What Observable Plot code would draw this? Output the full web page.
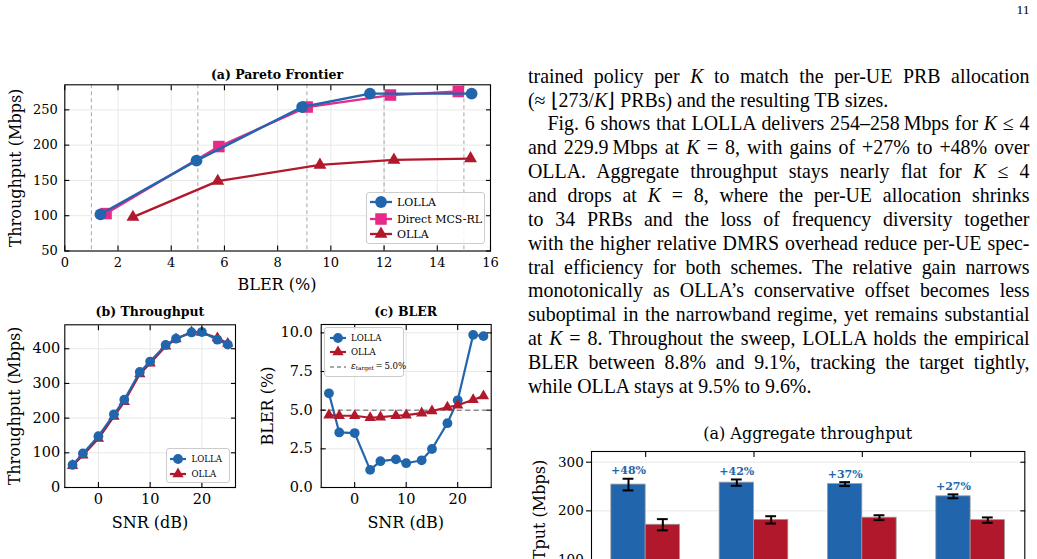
<!DOCTYPE html>
<html>
<head>
<meta charset="utf-8">
<script src="https://cdn.jsdelivr.net/npm/d3@7"></script>
<script src="https://cdn.jsdelivr.net/npm/@observablehq/plot@0.6"></script>
<style>
html, body { margin: 0; padding: 0; background: #fff; }
#page { position: relative; width: 1037px; height: 559px; overflow: hidden; background: #fff; }
.chart { position: absolute; }
.chart svg { max-width: none; display: block; }
.lbl { position: absolute; font-family: "DejaVu Serif", serif; color: #000; white-space: nowrap; transform: translate(-50%, -50%); line-height: 1; }
.ttl { font-weight: bold; font-size: 12.5px; }
.axl { font-size: 16px; }
.rot { transform: translate(-50%, -50%) rotate(-90deg); }
.legend { position: absolute; box-sizing: border-box; border: 1px solid #cccccc; border-radius: 3px; background: rgba(255,255,255,0.85); font-family: "DejaVu Serif", serif; color: #000; }
.legend span { position: absolute; white-space: nowrap; transform: translateY(-50%); line-height: 1; }
.legend svg { position: absolute; overflow: visible; }
.line { position: absolute; left: 528px; width: 501.5px; font-family: "Liberation Serif", "Times New Roman", serif; font-size: 19.9px; line-height: 23.85px; white-space: nowrap; color: #000; }
.pageno { position: absolute; left: 1000px; width: 29.5px; text-align: right; top: 2px; font-family: "Liberation Serif", "Times New Roman", serif; font-size: 13.5px; line-height: 16px; }
</style>
</head>
<body>
<div id="page"></div>
<script>
// ---------- data ----------
// (a) Pareto frontier: empirical BLER (%) vs throughput (Mbps) per BLER target
const blerTargets = [1, 5, 9.1, 12, 15];
const paretoLollaBler = [1.34, 4.95, 8.92, 11.47, 15.29];
const paretoLollaTput = [102, 178, 254, 273, 273];
const paretoDirectBler = [1.55, 5.79, 9.11, 12.24, 14.79];
const paretoDirectTput = [103, 198, 254, 271, 276];
const paretoOllaBler = [2.56, 5.75, 9.59, 12.37, 15.25];
const paretoOllaTput = [98, 149, 172, 179, 181];

// (b)/(c) SNR sweep
const snrDb = [-5, -3, 0, 3, 5, 8, 10, 13, 15, 18, 20, 23, 25];
const tputLolla = [65, 98, 148, 211, 253, 333, 363, 411, 429, 447, 448, 426, 412];
const tputOlla = [63, 93, 141, 205, 247, 327, 358, 407, 428, 448, 447, 431, 415];
const blerLolla = [6.09, 3.56, 3.52, 1.14, 1.70, 1.82, 1.57, 1.76, 2.49, 4.16, 5.64, 9.87, 9.79];
const blerOlla = [4.68, 4.64, 4.64, 4.51, 4.55, 4.64, 4.68, 4.81, 4.94, 5.19, 5.32, 5.67, 5.92];
const blerTarget = 5.0;

// Aggregate throughput per number of users K
const usersK = [1, 2, 4, 8];
const aggLolla = [254, 258, 255, 229.9];
const aggLollaErr = [12, 6.5, 4, 4];
const aggOlla = [171.5, 181.5, 186, 181];
const aggOllaErr = [11.5, 7.5, 5, 5.5];

// ---------- style ----------
const BLUE = "#2166ac", PINK = "#e7298a", RED = "#b2182b";
const GRID = "#e8e8e8";
const FONT = "DejaVu Serif";
const page = document.getElementById("page");

const rows = (xs, ys) => xs.map((x, i) => ({x, y: ys[i]}));

function place(node, left, top) {
  const wrap = document.createElement("div");
  wrap.className = "chart";
  wrap.style.left = left + "px";
  wrap.style.top = top + "px";
  wrap.append(node);
  page.append(wrap);
}

function label(text, x, y, cls) {
  const d = document.createElement("div");
  d.className = "lbl " + cls;
  d.innerHTML = text;
  d.style.left = x + "px";
  d.style.top = y + "px";
  page.append(d);
}

// light grid behind the data
function boxGrid({xTicks, yTicks}) {
  return [
    Plot.gridX({ticks: xTicks, stroke: GRID, strokeOpacity: 1, strokeWidth: 1}),
    Plot.gridY({ticks: yTicks, stroke: GRID, strokeOpacity: 1, strokeWidth: 1})
  ];
}
// frame with inward ticks on all four sides, labels on bottom and left
function boxFrame({xTicks, yTicks, yFormat, fontSize, xPad, yPad}) {
  return [
    Plot.frame({stroke: "#000", strokeWidth: 1.1}),
    Plot.axisX({ticks: xTicks, anchor: "bottom", tickSize: -5, tickPadding: xPad, label: null, fontSize, strokeWidth: 1.1}),
    Plot.axisX({ticks: xTicks, anchor: "top", tickSize: -5, tickFormat: () => "", label: null, strokeWidth: 1.1}),
    Plot.axisY({ticks: yTicks, anchor: "left", tickSize: -5, tickPadding: yPad, tickFormat: yFormat, label: null, fontSize, strokeWidth: 1.1}),
    Plot.axisY({ticks: yTicks, anchor: "right", tickSize: -5, tickFormat: () => "", label: null, strokeWidth: 1.1})
  ];
}

function series(data, color, symbol, r, sw) {
  return [
    Plot.line(data, {x: "x", y: "y", stroke: color, strokeWidth: sw}),
    Plot.dot(data, {x: "x", y: "y", fill: color, symbol, r})
  ];
}

function legend(items, box) {
  const div = document.createElement("div");
  div.className = "legend";
  Object.assign(div.style, {
    left: box.left + "px", top: box.top + "px",
    width: box.width + "px", height: box.height + "px",
    fontSize: box.fontSize + "px"
  });
  items.forEach((it, i) => {
    const cy = box.rows[i];
    const svg = d3.create("svg")
      .attr("width", box.lineLen).attr("height", 16)
      .style("left", box.lineX + "px").style("top", (cy - 8) + "px");
    svg.append("line")
      .attr("x1", 0).attr("x2", box.lineLen).attr("y1", 8).attr("y2", 8)
      .attr("stroke", it.color).attr("stroke-width", it.width)
      .attr("stroke-dasharray", it.dash || null);
    if (it.symbol) {
      svg.append("path")
        .attr("d", d3.symbol(it.symbol, Math.PI * it.r * it.r)())
        .attr("transform", `translate(${box.lineLen / 2},8)`)
        .attr("fill", it.color);
    }
    div.append(svg.node());
    const sp = document.createElement("span");
    sp.innerHTML = it.label;
    sp.style.left = box.textX + "px";
    sp.style.top = cy + "px";
    div.append(sp);
  });
  page.append(div);
}

// ---------- (a) Pareto frontier ----------
{
  const ax = {xTicks: d3.range(0, 17, 2), yTicks: [50, 100, 150, 200, 250], fontSize: 13, xPad: 12, yPad: 12};
  const chart = Plot.plot({
    width: 500, height: 230,
    marginLeft: 64.3, marginRight: 10, marginTop: 24.3, marginBottom: 39.5,
    style: {fontFamily: FONT, fontSize: "13px", color: "#000", background: "transparent"},
    x: {domain: [0, 16]},
    y: {domain: [50, 285.5]},
    marks: [
      ...boxGrid(ax),
      Plot.ruleX(blerTargets, {stroke: "#b0b0b0", strokeWidth: 1.1, strokeDasharray: "4,3"}),
      ...series(rows(paretoOllaBler, paretoOllaTput), RED, "triangle", 4.8, 2.3),
      ...series(rows(paretoDirectBler, paretoDirectTput), PINK, "square", 6.5, 2.3),
      ...series(rows(paretoLollaBler, paretoLollaTput), BLUE, "circle", 5.9, 2.4),
      ...boxFrame(ax)
    ]
  });
  place(chart, 0, 60);
  label("(a) Pareto Frontier", 277, 75, "ttl");
  label("Throughput (Mbps)", 16, 168, "axl rot");
  label("BLER (%)", 277, 285, "axl");
  legend([
    {label: "LOLLA", color: BLUE, symbol: d3.symbolCircle, r: 5.9, width: 2.3},
    {label: "Direct MCS-RL", color: PINK, symbol: d3.symbolSquare, r: 6.5, width: 2.3},
    {label: "OLLA", color: RED, symbol: d3.symbolTriangle, r: 4.8, width: 2.3}
  ], {left: 366, top: 192, width: 119, height: 52, fontSize: 11, rows: [9, 25.7, 41.3], lineX: 3, lineLen: 22, textX: 30});
}

// ---------- (b) Throughput vs SNR ----------
{
  const ax = {xTicks: [0, 10, 20], yTicks: [0, 100, 200, 300, 400], fontSize: 14.5, xPad: 11, yPad: 9.5};
  const chart = Plot.plot({
    width: 250, height: 230,
    marginLeft: 64.3, marginRight: 15, marginTop: 24.3, marginBottom: 43,
    style: {fontFamily: FONT, fontSize: "14.5px", color: "#000", background: "transparent"},
    x: {domain: [-6.5, 26.5]},
    y: {domain: [0, 469]},
    marks: [
      ...boxGrid(ax),
      ...series(rows(snrDb, tputOlla), RED, "triangle", 4.2, 2.2),
      ...series(rows(snrDb, tputLolla), BLUE, "circle", 4.9, 2.2),
      ...boxFrame(ax)
    ]
  });
  place(chart, 0, 300);
  label("(b) Throughput", 150, 311.5, "ttl");
  label("Throughput (Mbps)", 15, 405.5, "axl rot");
  label("SNR (dB)", 150, 523, "axl");
  legend([
    {label: "LOLLA", color: BLUE, symbol: d3.symbolCircle, r: 4.9, width: 2.2},
    {label: "OLLA", color: RED, symbol: d3.symbolTriangle, r: 4.2, width: 2.2}
  ], {left: 166, top: 448, width: 63.5, height: 34.5, fontSize: 8.6, rows: [10, 24.5], lineX: 3, lineLen: 16, textX: 24.5});
}

// ---------- (c) BLER vs SNR ----------
{
  const ax = {xTicks: [0, 10, 20], yTicks: [0, 2.5, 5, 7.5, 10], yFormat: d3.format(".1f"), fontSize: 14.5, xPad: 11, yPad: 13.5};
  const chart = Plot.plot({
    width: 260, height: 230,
    marginLeft: 70.7, marginRight: 19.3, marginTop: 24, marginBottom: 43,
    style: {fontFamily: FONT, fontSize: "14.5px", color: "#000", background: "transparent"},
    x: {domain: [-6.5, 26.5]},
    y: {domain: [0, 10.54]},
    marks: [
      ...boxGrid(ax),
      Plot.ruleY([blerTarget], {stroke: "#8c8c8c", strokeWidth: 1.5, strokeDasharray: "5,3.5"}),
      ...series(rows(snrDb, blerLolla), BLUE, "circle", 4.9, 2.2),
      ...series(rows(snrDb, blerOlla), RED, "triangle", 4.2, 2.2),
      ...boxFrame(ax)
    ]
  });
  place(chart, 250, 300);
  label("(c) BLER", 405.7, 311.5, "ttl");
  label("BLER (%)", 268, 405.5, "axl rot");
  label("SNR (dB)", 405.7, 523, "axl");
  legend([
    {label: "LOLLA", color: BLUE, symbol: d3.symbolCircle, r: 4.9, width: 2.2},
    {label: "OLLA", color: RED, symbol: d3.symbolTriangle, r: 4.2, width: 2.2},
    {label: "<i>ε</i><sub style=\"font-size:0.68em;vertical-align:-0.25em\">target</sub>&thinsp;=&thinsp;" + blerTarget.toFixed(1) + "%", color: "#8c8c8c", width: 1.5, dash: "4,3"}
  ], {left: 324, top: 327, width: 79.5, height: 50, fontSize: 8.6, rows: [9.8, 24.2, 38.8], lineX: 5, lineLen: 16, textX: 26});
}

// ---------- Aggregate throughput bars ----------
{
  const W = 0.317; // bar width in group units
  const lolla = usersK.map((k, i) => ({i, k, v: aggLolla[i], e: aggLollaErr[i], gain: aggLolla[i] / aggOlla[i] - 1}));
  const olla = usersK.map((k, i) => ({i, k, v: aggOlla[i], e: aggOllaErr[i]}));
  const yTicks = [0, 100, 200, 300];
  const capW = 0.05;
  const errMarks = (data, off) => [
    Plot.ruleX(data, {x: d => d.i + off, y1: d => d.v - d.e, y2: d => d.v + d.e, stroke: "#000", strokeWidth: 2}),
    Plot.ruleY(data, {y: d => d.v + d.e, x1: d => d.i + off - capW, x2: d => d.i + off + capW, stroke: "#000", strokeWidth: 2}),
    Plot.ruleY(data, {y: d => d.v - d.e, x1: d => d.i + off - capW, x2: d => d.i + off + capW, stroke: "#000", strokeWidth: 2})
  ];
  const chart = Plot.plot({
    width: 537, height: 200,
    marginLeft: 91, marginRight: 12.7, marginTop: 6, marginBottom: 37.3,
    style: {fontFamily: FONT, fontSize: "13.5px", color: "#000", background: "transparent"},
    x: {domain: [-0.5, 3.5]},
    y: {domain: [0, 322]},
    marks: [
      Plot.gridY({ticks: yTicks, stroke: GRID, strokeOpacity: 1, strokeWidth: 1}),
      Plot.rect(lolla, {x1: d => d.i - W, x2: d => d.i, y1: 0, y2: "v", fill: BLUE, stroke: "#9a9a9a", strokeWidth: 0.8}),
      Plot.rect(olla, {x1: d => d.i, x2: d => d.i + W, y1: 0, y2: "v", fill: RED, stroke: "#9a9a9a", strokeWidth: 0.8}),
      ...errMarks(lolla, -W / 2),
      ...errMarks(olla, W / 2),
      Plot.text(lolla, {x: d => d.i - W / 2, y: d => d.v + d.e, dy: -8, text: d => `+${Math.round(d.gain * 100)}%`, fill: BLUE, fontWeight: "bold", fontSize: 11}),
      Plot.frame({stroke: "#000", strokeWidth: 1.1}),
      Plot.axisY({ticks: yTicks, anchor: "left", tickSize: 5, tickPadding: 2.7, label: null, strokeWidth: 1.1}),
      Plot.axisY({ticks: yTicks, anchor: "right", tickSize: -5, tickFormat: () => "", label: null, strokeWidth: 1.1}),
      Plot.axisX({ticks: usersK.map((k, i) => i), anchor: "top", tickSize: -5, tickFormat: () => "", label: null, strokeWidth: 1.1})
    ]
  });
  place(chart, 500, 445);
  label("(a) Aggregate throughput", 807.7, 434, "axl");
  label("Tput (Mbps)", 540, 510, "axl rot");
}

// ---------- body text ----------
const bodyLines = [
  {html: "trained policy per <i>K</i> to match the per-UE PRB allocation", justify: true},
  {html: "(≈&#8197;⌊273/<i>K</i>⌋ PRBs) and the resulting TB sizes.", justify: false},
  {html: "Fig. 6 shows that LOLLA delivers 254–258&thinsp;Mbps for <i>K</i> ≤ 4", justify: true, indent: 19.4},
  {html: "and 229.9&thinsp;Mbps at <i>K</i> = 8, with gains of +27% to +48% over", justify: true},
  {html: "OLLA. Aggregate throughput stays nearly flat for <i>K</i> ≤ 4", justify: true},
  {html: "and drops at <i>K</i> = 8, where the per-UE allocation shrinks", justify: true},
  {html: "to 34 PRBs and the loss of frequency diversity together", justify: true},
  {html: "with the higher relative DMRS overhead reduce per-UE spec-", justify: true},
  {html: "tral efficiency for both schemes. The relative gain narrows", justify: true},
  {html: "monotonically as OLLA’s conservative offset becomes less", justify: true},
  {html: "suboptimal in the narrowband regime, yet remains substantial", justify: true},
  {html: "at <i>K</i> = 8. Throughout the sweep, LOLLA holds the empirical", justify: true},
  {html: "BLER between 8.8% and 9.1%, tracking the target tightly,", justify: true},
  {html: "while OLLA stays at 9.5% to 9.6%.", justify: false}
];
const COL_W = 501.5;
bodyLines.forEach((ln, i) => {
  const div = document.createElement("div");
  div.className = "line";
  div.style.top = (64.7 + i * 23.85) + "px";
  const indent = ln.indent || 0;
  div.style.paddingLeft = indent + "px";
  div.style.width = (COL_W - indent) + "px";
  const span = document.createElement("span");
  span.innerHTML = ln.html;
  div.append(span);
  page.append(div);
  if (ln.justify) {
    const w = span.getBoundingClientRect().width;
    const n = (span.textContent.match(/ /g) || []).length;
    if (n) div.style.wordSpacing = ((COL_W - indent - w) / n) + "px";
  }
});

const pn = document.createElement("div");
pn.className = "pageno";
pn.textContent = "11";
page.append(pn);
</script>
</body>
</html>
